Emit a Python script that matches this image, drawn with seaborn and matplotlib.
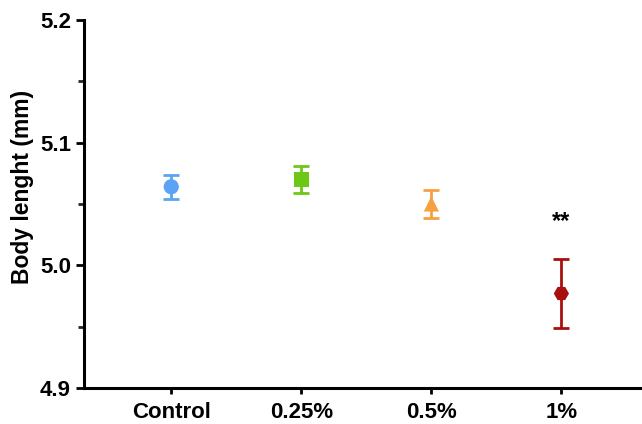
import matplotlib
matplotlib.use("Agg")
import matplotlib.pyplot as plt
import seaborn as sns
import pandas as pd
from matplotlib.ticker import MultipleLocator

groups = ["Control", "0.25%", "0.5%", "1%"]
means = [5.064, 5.070, 5.050, 4.977]
errors = [0.010, 0.011, 0.0115, 0.028]
colors = ["#5ba3f5", "#6cc814", "#f7a041", "#a80f0f"]
markers = ["o", "s", "^", "H"]
stars = ["", "", "", "**"]

df = pd.DataFrame({"group": groups, "mean": means, "err": errors})

sns.set_style("ticks")
plt.rcParams["font.family"] = ["Liberation Sans", "DejaVu Sans"]
plt.rcParams["font.weight"] = "bold"

fig = plt.figure(figsize=(6.42, 4.24), dpi=100)
ax = fig.add_axes([0.131, 0.085, 0.869, 0.868])

for i, row in df.iterrows():
    ax.errorbar(i, row["mean"], yerr=row["err"], fmt="none", ecolor=colors[i],
                elinewidth=2, capsize=6, capthick=2, zorder=2)

sns.scatterplot(data=df, x="group", y="mean", hue="group", style="group",
                palette=colors, markers=markers, s=120, edgecolor="none",
                legend=False, ax=ax, zorder=3)

# significance marks
for i, s in enumerate(stars):
    if s:
        ax.text(i, 5.026, s, ha="center", va="bottom",
                fontsize=17, fontweight="bold", color="black")

ax.set_xlim(-0.67, 3.62)
ax.set_ylim(4.9, 5.2)
ax.yaxis.set_major_locator(MultipleLocator(0.1))
ax.yaxis.set_minor_locator(MultipleLocator(0.05))
ax.yaxis.set_major_formatter(matplotlib.ticker.FormatStrFormatter("%.1f"))
ax.set_xlabel("")
ax.set_ylabel("Body lenght (mm)", fontsize=16.5, fontweight="bold", color="black")
ax.yaxis.set_label_coords(-0.09, 0.546)
ax.tick_params(axis="both", labelsize=16, width=2, length=6,
               colors="black", labelcolor="black")
ax.tick_params(axis="y", which="minor", width=2, length=4)
ax.tick_params(axis="x", length=4, pad=6)
for lbl in ax.get_xticklabels() + ax.get_yticklabels():
    lbl.set_fontweight("bold")
sns.despine(ax=ax)
for sp in ["left", "bottom"]:
    ax.spines[sp].set_linewidth(2.2)
    ax.spines[sp].set_color("black")

fig.savefig("out.png", dpi=100)
